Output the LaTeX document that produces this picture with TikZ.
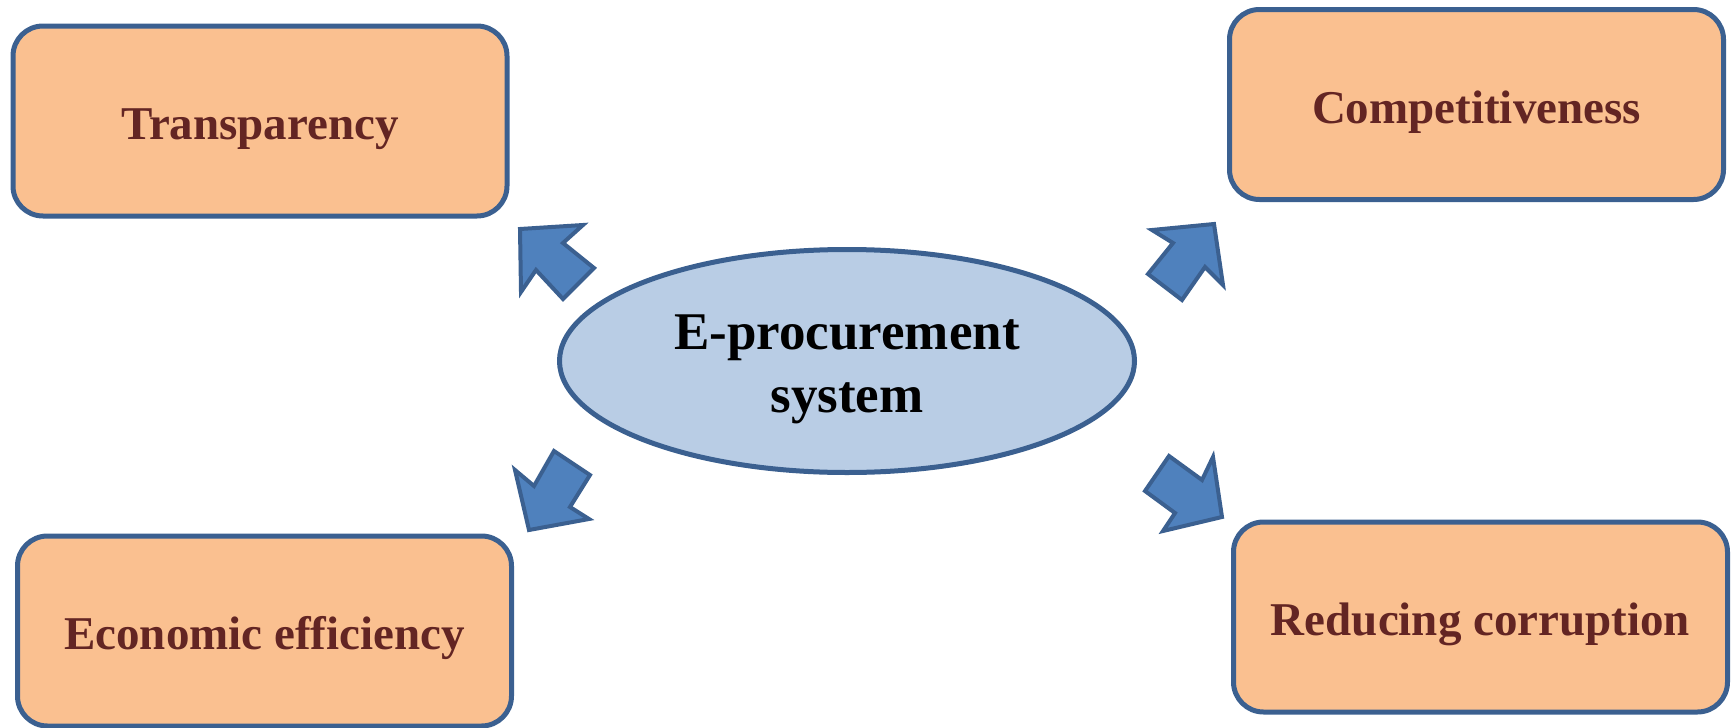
\documentclass[tikz,border=0pt]{standalone}
\usepackage{fontspec}
\setmainfont{Liberation Serif}
\usepackage{tikz}
\usetikzlibrary{shapes.geometric}
\definecolor{goalfill}{HTML}{FAC090}
\definecolor{edgeblue}{HTML}{3B6090}
\definecolor{goaltext}{HTML}{632523}
\definecolor{hubfill}{HTML}{B9CDE5}
\definecolor{arrowfill}{HTML}{4F81BD}

\begin{document}
\begin{tikzpicture}[x=0.5pt,y=-0.5pt,
  goal/.style={draw=edgeblue, fill=goalfill, line width=2.5pt, rounded corners=15pt,
    minimum width=247pt, minimum height=95pt, text=goaltext,
    font=\bfseries\fontsize{23.5}{28}\selectfont, text height=18.5pt, text depth=0pt},
  hub/.style={ellipse, draw=edgeblue, fill=hubfill, line width=2.5pt,
    minimum width=287.5pt, minimum height=111.5pt, inner sep=0pt, align=center,
    font=\bfseries\fontsize{26.5}{31.5}\selectfont},
  blockarrow/.style={draw=edgeblue, fill=arrowfill, line width=2pt}]
\useasboundingbox (0,0) rectangle (1735,728);

\node[hub] (system) at (847,361) {\rule{0pt}{26pt}E-procurement\\system};

\node[goal] (transparency) at (260,121) {Transparency};
\node[goal] (competitive) at (1476.5,104.5) {Competitiveness};
\node[goal] (efficiency) at (264.5,631) {Economic efficiency};
\node[goal] (corruption) at (1480.5,617) {Reducing corruption};

\draw[blockarrow] (520,229) -- (583,225) -- (563,243) -- (594,268) -- (563,299) -- (536,270) -- (521,292) -- cycle;
\draw[blockarrow] (1214,224) -- (1152,230) -- (1173,243) -- (1148,274) -- (1182,300) -- (1205,267) -- (1223,285) -- cycle;
\draw[blockarrow] (529,530) -- (515,470) -- (534,486) -- (554,451) -- (590,475) -- (570,507) -- (589,519) -- cycle;
\draw[blockarrow] (1222,517) -- (1213,457) -- (1202,480) -- (1169,456) -- (1145,491) -- (1175,513) -- (1163,531) -- cycle;
\end{tikzpicture}
\end{document}
